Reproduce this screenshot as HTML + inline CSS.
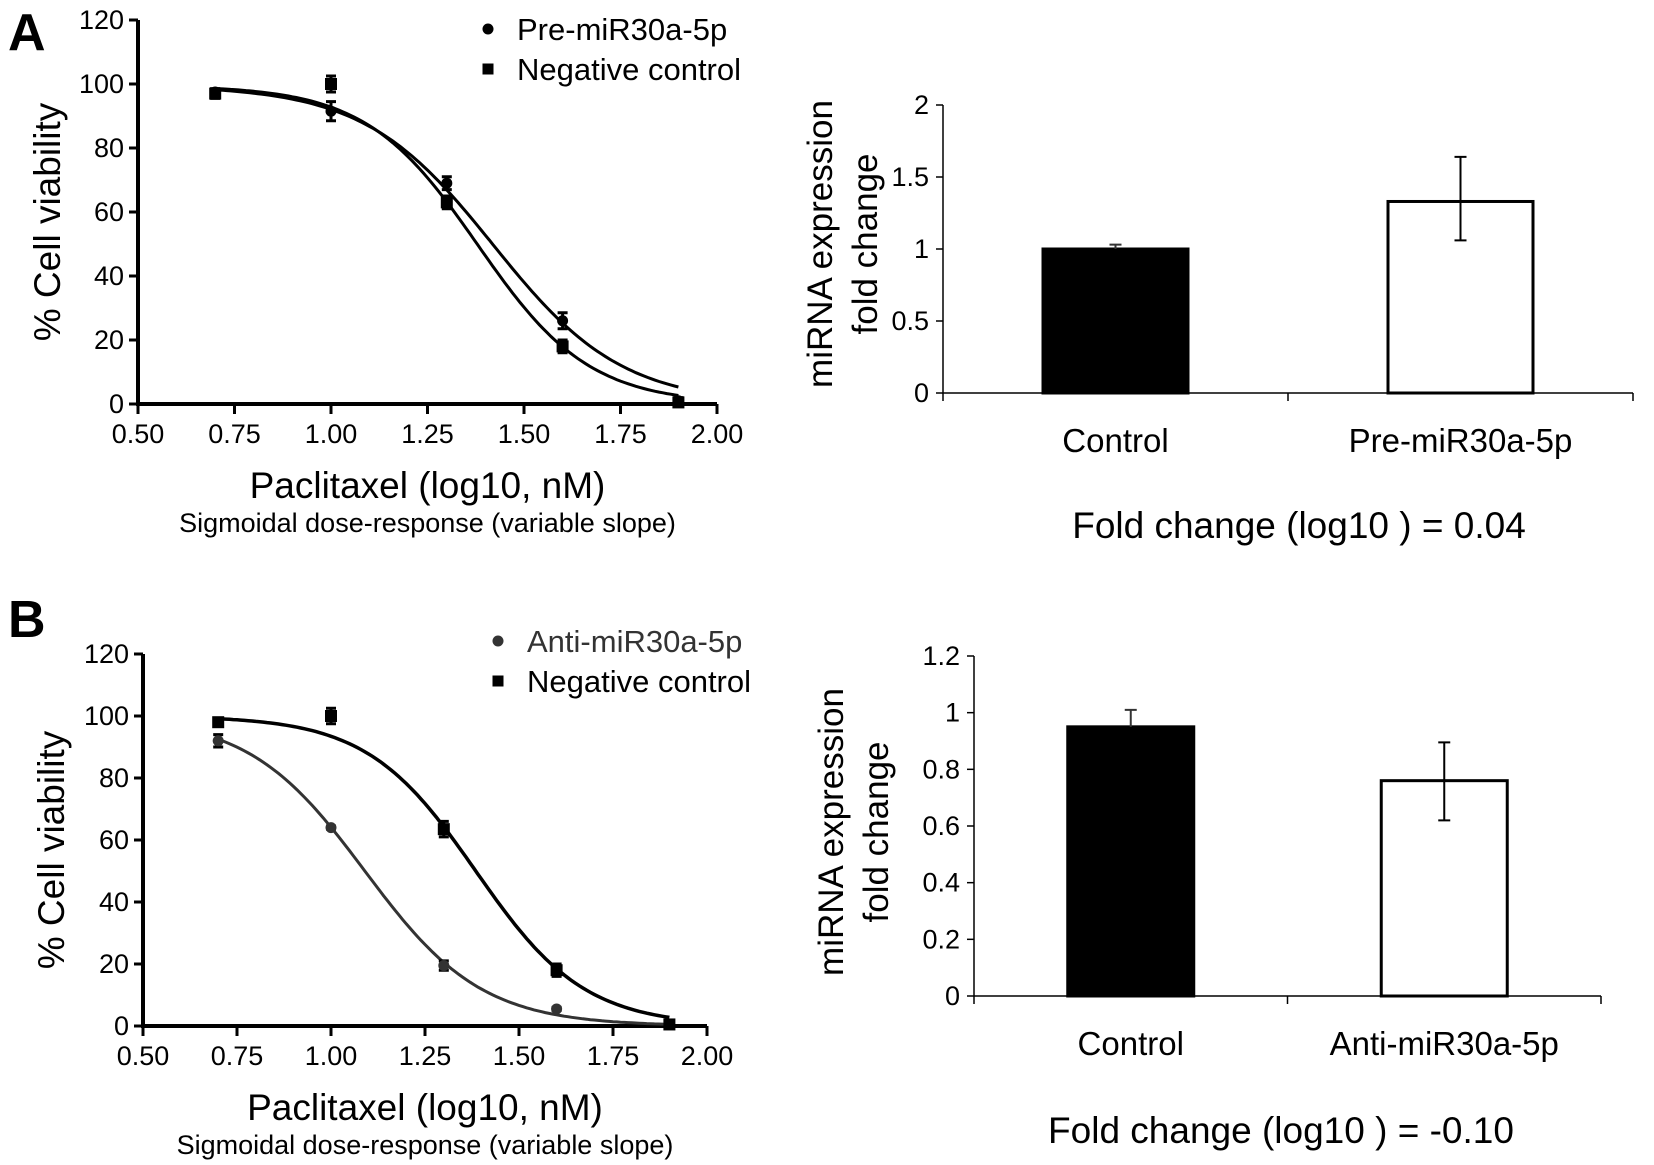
<!DOCTYPE html>
<html><head><meta charset="utf-8"><style>
html,body{margin:0;padding:0;background:#fff;}
svg{display:block;}
.n{font-family:"Liberation Sans Narrow","Liberation Sans",sans-serif;}
.r{font-family:"Liberation Sans",sans-serif;}
</style></head><body>
<svg id="fig" width="1654" height="1165" viewBox="0 0 1654 1165" xmlns="http://www.w3.org/2000/svg">
<rect width="1654" height="1165" fill="#fff"/>
</svg>
<script>
// ---------- data ----------
const doseX = [0.70, 1.00, 1.30, 1.60, 1.90];
const aPreY = [97.5, 91.5, 69, 26, 1];
const aPreErr = [1, 3, 2, 2.5, 1];
const aNegY = [97, 100, 63, 18, 0.5];
const aNegErr = [1.5, 2.5, 2, 2, 1];
const bAntiY = [92, 64, 19.5, 5.5, 0.5];
const bAntiErr = [2, 0.5, 1.5, 0.5, 0.5];
const bNegY = [98, 100, 63.5, 18, 0.5];
const bNegErr = [1, 2.5, 2.5, 2, 1];
// sigmoid fits: [top, bottom, logIC50, hill]
const aPreFit = [99.5, 0, 1.42, 2.6];
const aNegFit = [99.5, 0, 1.38, 3.0];
const bAntiFit = [100, 0, 1.09, 2.8];
const bNegFit = [100, 0, 1.385, 3.0];
const xTicks = [0.50, 0.75, 1.00, 1.25, 1.50, 1.75, 2.00];
const yTicksV = [0, 20, 40, 60, 80, 100, 120];
const barCatsA = ["Control", "Pre-miR30a-5p"];
const barValsA = [1.0, 1.33];
const barErrHiA = [0.03, 0.31];
const barErrLoA = [0, 0.27];
const barTicksA = [0, 0.5, 1, 1.5, 2];
const barCatsB = ["Control", "Anti-miR30a-5p"];
const barValsB = [0.95, 0.76];
const barErrHiB = [0.06, 0.135];
const barErrLoB = [0, 0.14];
const barTicksB = [0, 0.2, 0.4, 0.6, 0.8, 1, 1.2];

const NS = "http://www.w3.org/2000/svg";
const svg = document.getElementById('fig');
function el(tag, attrs, parent, text) {
  const e = document.createElementNS(NS, tag);
  for (const k in attrs) e.setAttribute(k, attrs[k]);
  if (text !== undefined) e.textContent = text;
  (parent || svg).appendChild(e);
  return e;
}
function sig(p, x) { return p[1] + (p[0] - p[1]) / (1 + Math.pow(10, (x - p[2]) * p[3])); }

function dosePanel(o) {
  const g = el('g', {});
  
  
  const sx = v => o.x0 + (v - 0.5) / 1.5 * (o.x1 - o.x0);
  const sy = v => o.y0 - v / 120 * (o.y0 - o.y1);
  // axes
  const ax = el('path', {d: `M${o.x0},${o.y1} V${o.y0} H${o.x1}`, stroke: '#000', 'stroke-width': 4, fill: 'none'}, g);
  
  
  yTicksV.forEach(v => {
    el('line', {x1: o.x0 - 9, x2: o.x0, y1: sy(v), y2: sy(v), stroke: '#000', 'stroke-width': 3}, g);
    const t = el('text', {x: o.x0 - 14, y: sy(v) + 9, 'text-anchor': 'end', 'font-size': 27, class: 'n'}, g, String(v));
    
    
  });
  xTicks.forEach(v => {
    el('line', {x1: sx(v), x2: sx(v), y1: o.y0, y2: o.y0 + 10, stroke: '#000', 'stroke-width': 3}, g);
    const t = el('text', {x: sx(v), y: o.y0 + 39, 'text-anchor': 'middle', 'font-size': 27, class: 'n'}, g, v.toFixed(2));
    
    
  });
  // curves
  o.series.forEach(s => {
    let d = '';
    for (let i = 0; i <= 120; i++) {
      const x = 0.7 + 1.2 * i / 120;
      d += (i ? 'L' : 'M') + sx(x).toFixed(1) + ',' + sy(sig(s.fit, x)).toFixed(1);
    }
    const c = el('path', {d, stroke: s.col, 'stroke-width': s.w, fill: 'none'}, g);
    
    
    doseX.forEach((x, i) => {
      const cx = sx(x), cy = sy(s.y[i]);
      const e = s.err[i];
      el('path', {d: `M${cx},${sy(s.y[i] + e)} V${sy(s.y[i] - e)} M${cx - 5},${sy(s.y[i] + e)} h10 M${cx - 5},${sy(s.y[i] - e)} h10`, stroke: '#000', 'stroke-width': 3}, g);
      let m;
      if (s.shape === 'circle') m = el('circle', {cx, cy, r: 5.5, fill: s.col}, g);
      else m = el('rect', {x: cx - 6, y: cy - 6, width: 12, height: 12, fill: '#000'}, g);
      
      
    });
  });
  // legend
  o.series.forEach((s, i) => {
    const ly = o.legY + i * 40;
    if (s.shape === 'circle') el('circle', {cx: o.legX, cy: ly, r: 5.5, fill: s.col}, g);
    else el('rect', {x: o.legX - 5.5, y: ly - 5.5, width: 11, height: 11, fill: '#000'}, g);
    const t = el('text', {x: o.legX + 29, y: ly + 11, 'font-size': 31, class: 'n', fill: s.col}, g, s.label);
    
    
  });
  const yt = el('text', {transform: `translate(${o.ytX},${(o.y0 + o.y1) / 2 + 10}) rotate(-90)`, 'text-anchor': 'middle', 'font-size': 37, class: 'r'}, g, '% Cell viability');
  
  
  const xt = el('text', {x: (o.x0 + o.x1) / 2, y: o.y0 + 94, 'text-anchor': 'middle', 'font-size': 37, class: 'n'}, g, 'Paclitaxel (log10, nM)');
  
  
  const st = el('text', {x: (o.x0 + o.x1) / 2, y: o.y0 + 128, 'text-anchor': 'middle', 'font-size': 27, class: 'n'}, g, 'Sigmoidal dose-response (variable slope)');
  
  
}

function barPanel(o) {
  const g = el('g', {});
  
  
  const max = o.ticks[o.ticks.length - 1];
  const sy = v => o.y0 - v / max * (o.y0 - o.y1);
  const ax = el('path', {d: `M${o.x0},${o.y1} V${o.y0} H${o.x1}`, stroke: '#000', 'stroke-width': 1.5, fill: 'none'}, g);
  
  
  const mid = (o.x0 + o.x1) / 2;
  [o.x0, mid, o.x1].forEach(x => el('line', {x1: x, x2: x, y1: o.y0, y2: o.y0 + 8, stroke: '#000', 'stroke-width': 1.5}, g));
  o.ticks.forEach(v => {
    el('line', {x1: o.x0 - 7, x2: o.x0, y1: sy(v), y2: sy(v), stroke: '#000', 'stroke-width': 1.5}, g);
    const t = el('text', {x: o.x0 - 14, y: sy(v) + 9, 'text-anchor': 'end', 'font-size': 27, class: 'n'}, g, String(v));
    
    
  });
  const slot = (o.x1 - o.x0) / o.cats.length;
  o.cats.forEach((c, i) => {
    const cx = o.x0 + slot * (i + 0.5);
    const bw = o.bw;
    const b = el('rect', {x: cx - bw / 2, y: sy(o.vals[i]), width: bw, height: o.y0 - sy(o.vals[i]), fill: i === 0 ? '#000' : '#fff', stroke: '#000', 'stroke-width': 3}, g);
    
    
    const hi = sy(o.vals[i] + o.hi[i]), lo = sy(o.vals[i] - o.lo[i]);
    const eb = el('path', {d: `M${cx},${hi} V${lo} M${cx - 6},${hi} h12` + (o.lo[i] > 0 ? ` M${cx - 6},${lo} h12` : ''), stroke: i === 0 ? '#333' : '#000', 'stroke-width': 2}, g);
    
    
    const t = el('text', {x: cx, y: o.y0 + 59, 'text-anchor': 'middle', 'font-size': 33, class: 'n'}, g, c);
    
    
  });
  const t1 = el('text', {transform: `translate(${o.ytX},${o.ytY}) rotate(-90)`, 'text-anchor': 'middle', 'font-size': 35, class: 'r'}, g, 'miRNA expression');
  
  
  const t2 = el('text', {transform: `translate(${o.ytX + 45},${o.ytY}) rotate(-90)`, 'text-anchor': 'middle', 'font-size': 35, class: 'r'}, g, 'fold change');
  
  
  const f = el('text', {x: o.fcX, y: o.fcY, 'text-anchor': 'middle', 'font-size': 37, class: 'n'}, g, o.fc);
  
  
}

dosePanel({name: 'panel-a-dose-response', x0: 138, x1: 717, y0: 404, y1: 20, legX: 488, legY: 29, ytX: 60,
  series: [
    {key: 'pre-mir30a', label: 'Pre-miR30a-5p', y: aPreY, err: aPreErr, fit: aPreFit, shape: 'circle', col: '#000', w: 3},
    {key: 'negative-control', label: 'Negative control', y: aNegY, err: aNegErr, fit: aNegFit, shape: 'square', col: '#000', w: 3}
  ]});
dosePanel({name: 'panel-b-dose-response', x0: 143, x1: 707, y0: 1026, y1: 654, legX: 498, legY: 641, ytX: 64,
  series: [
    {key: 'anti-mir30a', label: 'Anti-miR30a-5p', y: bAntiY, err: bAntiErr, fit: bAntiFit, shape: 'circle', col: '#333', w: 3},
    {key: 'negative-control', label: 'Negative control', y: bNegY, err: bNegErr, fit: bNegFit, shape: 'square', col: '#000', w: 3.5}
  ]});
barPanel({name: 'panel-a-bar-chart', x0: 943, x1: 1633, y0: 393, y1: 105, ticks: barTicksA, cats: barCatsA, vals: barValsA, hi: barErrHiA, lo: barErrLoA, bw: 145,
  ytX: 832, ytY: 244, fc: 'Fold change (log10 ) = 0.04', fcX: 1299, fcY: 538});
barPanel({name: 'panel-b-bar-chart', x0: 974, x1: 1601, y0: 996, y1: 656, ticks: barTicksB, cats: barCatsB, vals: barValsB, hi: barErrHiB, lo: barErrLoB, bw: 126,
  ytX: 843, ytY: 832, fc: 'Fold change (log10 ) = -0.10', fcX: 1281, fcY: 1143});

const la = el('text', {x: 8, y: 50, 'font-size': 52, 'font-weight': 'bold', class: 'r'}, svg, 'A');


const lb = el('text', {x: 8, y: 637, 'font-size': 52, 'font-weight': 'bold', class: 'r'}, svg, 'B');


</script>
</body></html>
